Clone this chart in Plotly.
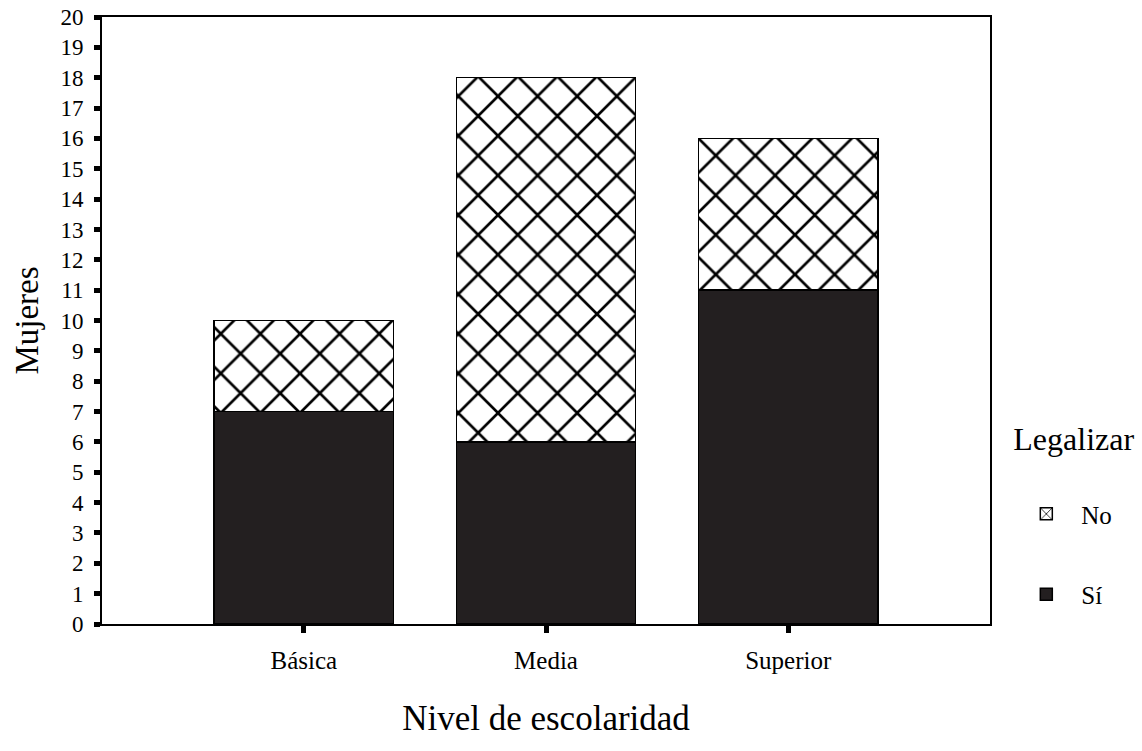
import plotly.graph_objects as go

categories = ["Básica", "Media", "Superior"]
si_values = [7, 6, 11]
no_values = [3, 12, 5]
y_ticks = list(range(0, 21))

FONT = "Liberation Serif, Times New Roman, serif"

fig = go.Figure()
fig.add_trace(go.Bar(
    x=categories, y=si_values, name="Sí", legendgroup="si", legendrank=2,
    marker=dict(color="#231f20", line=dict(color="#000000", width=1.5)),
    width=0.74,
))
fig.add_trace(go.Bar(
    x=categories, y=no_values, name="No", legendgroup="no", legendrank=1,
    marker=dict(color="#ffffff", line=dict(color="#000000", width=1.5),
                pattern=dict(shape="x", size=28, solidity=0.18,
                             fgcolor="#000000", fgopacity=1, bgcolor="#ffffff",
                             fillmode="replace")),
    width=0.74,
))

fig.update_layout(
    barmode="stack",
    width=1142, height=751,
    paper_bgcolor="white", plot_bgcolor="white",
    margin=dict(l=102, r=152, t=17, b=127, autoexpand=False),
    font=dict(family=FONT, color="#000000", size=20),
    showlegend=True,
    legend=dict(
        title=dict(text="Legalizar<br>\u00a0", font=dict(size=32)),
        traceorder="grouped",
        x=1.024, xanchor="left", y=0.356, yanchor="top",
        font=dict(size=25), itemwidth=60, tracegroupgap=45,
    ),
)
fig.update_xaxes(
    range=[-0.833, 2.833], automargin=False,
    showline=True, linecolor="#000000", linewidth=2, mirror=True,
    ticks="outside", ticklen=7, tickwidth=5, tickcolor="#000000",
    tickfont=dict(size=25), ticklabelstandoff=6,
    title=dict(text="Nivel de escolaridad", font=dict(size=35), standoff=32),
    showgrid=False,
)
fig.update_yaxes(
    range=[0, 20], tickvals=y_ticks, automargin=False,
    showline=True, linecolor="#000000", linewidth=2, mirror=True,
    ticks="outside", ticklen=6, tickwidth=5, tickcolor="#000000",
    tickfont=dict(size=23), ticklabelstandoff=6,
    title=dict(text="Mujeres", font=dict(size=33), standoff=12),
    showgrid=False, zeroline=False,
)

fig.write_html("out.html", config={"displayModeBar": False},
               post_script="document.body.style.margin='0px';document.body.style.overflow='hidden';")
